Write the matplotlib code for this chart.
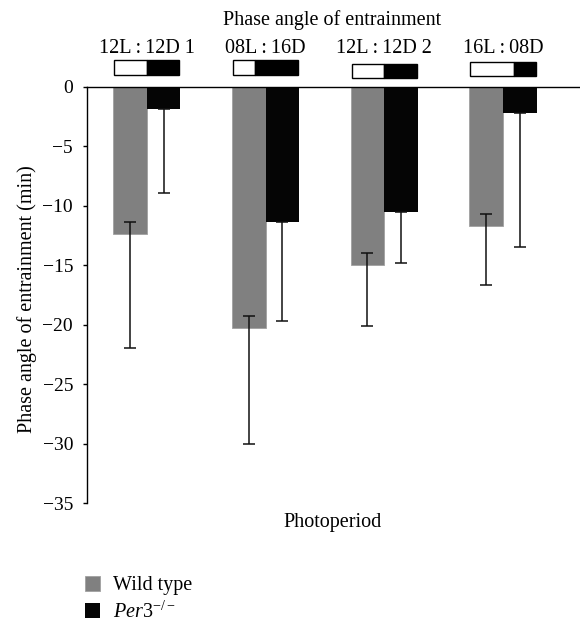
# Phase angle of entrainment, WT vs Per3-/- bar chart

import matplotlib
matplotlib.use('Agg')
import matplotlib.pyplot as plt
import matplotlib.transforms as mtransforms
from matplotlib.patches import Rectangle
import numpy as np

plt.rcParams['font.family'] = ['Liberation Serif', 'DejaVu Serif']
plt.rcParams['font.size'] = 14.5
plt.rcParams['mathtext.fontset'] = 'custom'
plt.rcParams['mathtext.rm'] = 'Liberation Serif'
plt.rcParams['mathtext.it'] = 'Liberation Serif:italic'

# data
categories = ['12L\u2009:\u200912D 1', '08L\u2009:\u200916D',
              '12L\u2009:\u200912D 2', '16L\u2009:\u200908D']
light_hours = [12, 8, 12, 16]
wt_mean = [-12.4, -20.3, -15.0, -11.7]
wt_err_lower = [9.6, 9.7, 5.1, 5.0]
wt_err_upper = [1.0, 1.0, 1.0, 1.0]
per_mean = [-1.9, -11.4, -10.5, -2.2]
per_err_lower = [7.0, 8.3, 4.3, 11.3]
per_err_upper = [0.0, 0.0, 0.0, 0.0]
yticks = [0, -5, -10, -15, -20, -25, -30, -35]

fig = plt.figure(figsize=(5.8, 6.22), dpi=100)
ax = fig.add_axes([0.1505, 0.1913, 0.8495, 0.6693])

x = np.arange(len(categories))
w = 0.284
ax.bar(x - w/2, wt_mean, w, color='#808080', edgecolor='#a0a0a0', linewidth=0.6,
       label='Wild type', zorder=2)
ax.bar(x + w/2, per_mean, w, color='#050505', label=r'$\mathit{Per}3^{-/-}$', zorder=2)
ax.errorbar(x - w/2, wt_mean, yerr=[wt_err_lower, wt_err_upper], fmt='none',
            ecolor='#111111', elinewidth=1.1, capsize=4.5, capthick=1.1, zorder=3)
ax.errorbar(x + w/2, per_mean, yerr=[per_err_lower, per_err_upper], fmt='none',
            ecolor='#111111', elinewidth=1.1, capsize=4.5, capthick=1.1, zorder=3)

ax.set_xlim(-0.5, 3.647)
ax.set_ylim(-35, 0)
ax.set_yticks(yticks)
ax.set_yticklabels(['0' if v == 0 else '\u2212%d' % -v for v in yticks], fontsize=14)
ax.set_xticks([])
ax.tick_params(axis='y', length=3.2, width=1.0, pad=7, direction='out')
for s in ['right', 'bottom']:
    ax.spines[s].set_visible(False)
ax.spines['left'].set_linewidth(1.0)
ax.spines['top'].set_linewidth(1.0)

ax.set_ylabel('Phase angle of entrainment (min)', va='baseline')
ax.yaxis.set_label_coords(-0.113, 0.49)
ax.set_xlabel('Photoperiod')
ax.xaxis.set_label_coords(0.497, -0.025)

ax.text(0.497, 1.148, 'Phase angle of entrainment', transform=ax.transAxes,
        ha='center', va='baseline')

# light/dark boxes and photoperiod labels above the groups
trans = mtransforms.blended_transform_factory(ax.transData, ax.transAxes)
box_bottom = [1.0293, 1.0281, 1.0221, 1.0257]
box_height = [0.0348, 0.036, 0.0324, 0.0336]
hw = 0.275
for i, lab in enumerate(categories):
    ax.text(i, 1.080, lab, transform=trans, ha='center', va='baseline')
    lf = light_hours[i] / 24.0
    ax.add_patch(Rectangle((i - hw, box_bottom[i]), 2*hw*lf, box_height[i],
                           transform=trans, facecolor='white', edgecolor='black',
                           lw=1.0, clip_on=False))
    ax.add_patch(Rectangle((i - hw + 2*hw*lf, box_bottom[i]), 2*hw*(1 - lf), box_height[i],
                           transform=trans, facecolor='black', edgecolor='black',
                           lw=1.0, clip_on=False))

fig.legend(loc='upper left', bbox_to_anchor=(85.2/580, 1 - 576/622),
           frameon=False, borderpad=0, borderaxespad=0, handlelength=0.74,
           handleheight=0.75, handletextpad=0.62, labelspacing=0.3)

fig.savefig('out.png', dpi=100)
